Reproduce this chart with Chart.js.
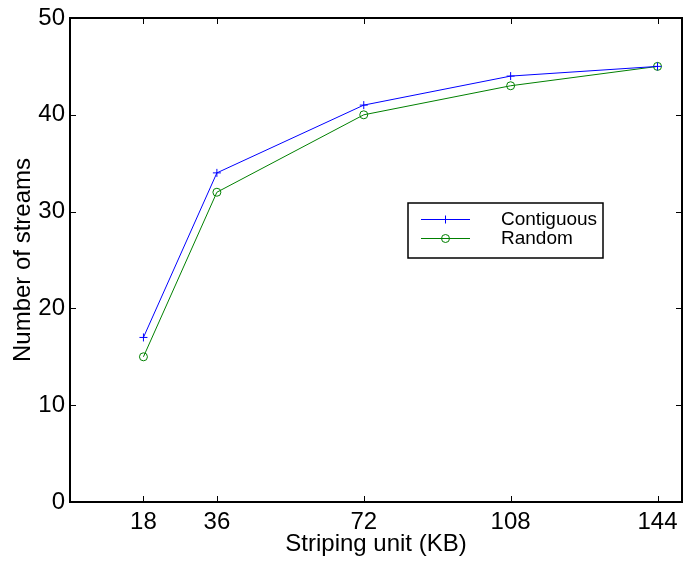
<!DOCTYPE html>
<html>
<head>
<meta charset="utf-8">
<script src="https://cdn.jsdelivr.net/npm/chart.js@4/dist/chart.umd.min.js"></script>
<style>
html,body{margin:0;padding:0;background:#fff;}
#wrap{width:683px;height:562px;position:relative;}
</style>
</head>
<body>
<div id="wrap"><canvas id="c" width="683" height="562"></canvas></div>
<script>
const stripingUnits = [18, 36, 72, 108, 144];
const contiguous = [17, 34, 41, 44, 45];
const random = [15, 32, 40, 43, 45];
const xTicks = [18, 36, 72, 108, 144];
const yTicks = [0, 10, 20, 30, 40, 50];
const seriesNames = ['Contiguous', 'Random'];
const xTitle = 'Striping unit (KB)';
const yTitle = 'Number of streams';

const FONT = '"Liberation Sans", Arial, Helvetica, sans-serif';

const frame = {
  id: 'frame',
  afterDraw(chart) {
    const {ctx, chartArea: a, scales: {x, y}} = chart;
    ctx.save();
    ctx.strokeStyle = '#000';
    ctx.lineWidth = 1;
    const L = 6;
    ctx.beginPath();
    xTicks.forEach(v => {
      const px = Math.round(x.getPixelForValue(v)) + 0.5;
      ctx.moveTo(px, a.bottom); ctx.lineTo(px, a.bottom - L);
      ctx.moveTo(px, a.top); ctx.lineTo(px, a.top + L);
    });
    yTicks.forEach(v => {
      const py = Math.round(y.getPixelForValue(v)) + 0.5;
      ctx.moveTo(a.left, py); ctx.lineTo(a.left + L, py);
      ctx.moveTo(a.right, py); ctx.lineTo(a.right - L, py);
    });
    ctx.stroke();
    ctx.lineWidth = 2;
    ctx.strokeRect(a.left, a.top, a.right - a.left, a.bottom - a.top);
    // legend box
    const bx = 408, by = 203, bw = 195, bh = 55;
    ctx.fillStyle = '#fff';
    ctx.fillRect(bx, by, bw, bh);
    ctx.lineWidth = 1.5;
    ctx.strokeStyle = '#000';
    ctx.strokeRect(bx, by, bw, bh);
    const ds = chart.data.datasets;
    const rows = [219.5, 238.5];
    ds.forEach((d, i) => {
      const yy = rows[i];
      ctx.strokeStyle = d.borderColor;
      ctx.lineWidth = 1;
      ctx.beginPath();
      ctx.moveTo(421, yy); ctx.lineTo(470, yy);
      ctx.stroke();
      ctx.beginPath();
      if (d.pointStyle === 'cross') {
        ctx.moveTo(445.5 - 4, yy); ctx.lineTo(445.5 + 4, yy);
        ctx.moveTo(445.5, yy - 4); ctx.lineTo(445.5, yy + 4);
      } else {
        ctx.arc(445.5, yy, 4, 0, Math.PI * 2);
      }
      ctx.stroke();
      ctx.fillStyle = '#000';
      ctx.font = '19px ' + FONT;
      ctx.textBaseline = 'middle';
      ctx.textAlign = 'left';
      ctx.fillText(d.label, 501, yy);
    });
    ctx.restore();
  }
};

new Chart(document.getElementById('c'), {
  type: 'line',
  data: {
    datasets: [
      {
        label: seriesNames[0],
        data: stripingUnits.map((v, i) => ({x: v, y: contiguous[i]})),
        borderColor: '#0000ff', backgroundColor: 'transparent',
        borderWidth: 1, pointStyle: 'cross', pointRadius: 4,
        pointBorderColor: '#0000ff', pointBorderWidth: 1, tension: 0
      },
      {
        label: seriesNames[1],
        data: stripingUnits.map((v, i) => ({x: v, y: random[i]})),
        borderColor: '#008000', backgroundColor: 'transparent',
        borderWidth: 1, pointStyle: 'circle', pointRadius: 4,
        pointBorderColor: '#008000', pointBorderWidth: 1, tension: 0
      }
    ]
  },
  options: {
    responsive: false,
    animation: false,
    layout: {autoPadding: false, padding: {top: 18, right: 1, left: 0, bottom: 0}},
    plugins: {legend: {display: false}, tooltip: {enabled: false}},
    scales: {
      x: {
        type: 'linear', min: 0, max: 150,
        afterBuildTicks: s => { s.ticks = xTicks.map(v => ({value: v})); },
        afterFit: s => { s.height = 60; s.paddingLeft = 0; s.paddingRight = 0; },
        grid: {display: false, drawTicks: false},
        border: {display: false},
        ticks: {color: '#000', font: {family: FONT, size: 24, lineHeight: 1}, padding: 8, maxRotation: 0},
        title: {display: true, text: xTitle, color: '#000', font: {family: FONT, size: 24, lineHeight: 1}, padding: {top: 0, bottom: 6}}
      },
      y: {
        type: 'linear', min: 0, max: 50,
        afterBuildTicks: s => { s.ticks = yTicks.map(v => ({value: v})); },
        afterFit: s => { s.width = 70; s.paddingTop = 0; s.paddingBottom = 0; },
        grid: {display: false, drawTicks: false},
        border: {display: false},
        ticks: {color: '#000', font: {family: FONT, size: 24, lineHeight: 1}, padding: 5},
        title: {display: true, text: yTitle, color: '#000', font: {family: FONT, size: 24, lineHeight: 1}, padding: {top: 11, bottom: 0}}
      }
    }
  },
  plugins: [frame]
});
</script>
</body>
</html>
